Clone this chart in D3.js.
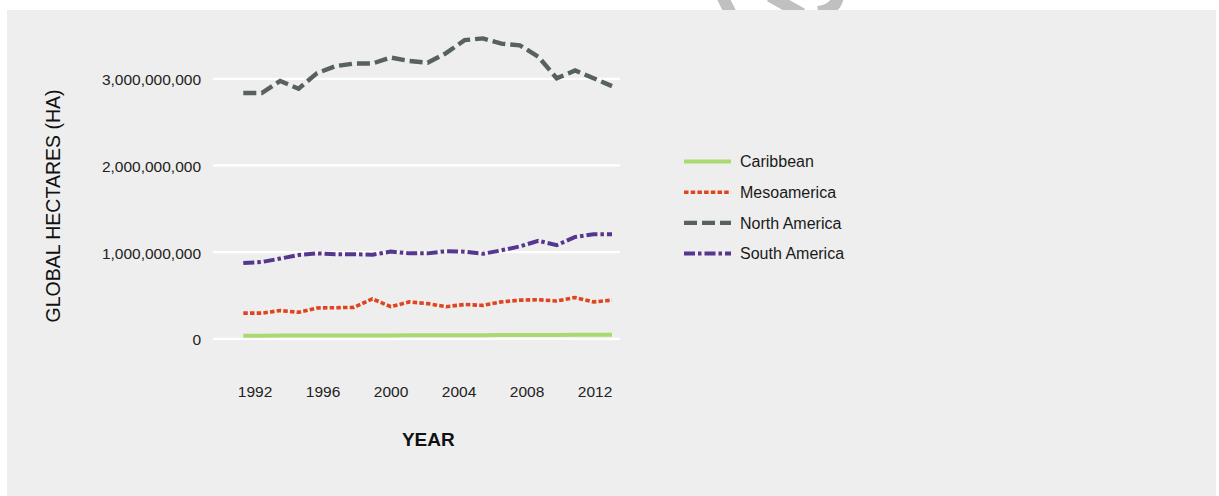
<!DOCTYPE html>
<html><head><meta charset="utf-8">
<script src="https://cdn.jsdelivr.net/npm/d3@7"></script>
<style>body{margin:0;background:#fff}svg{display:block}text{font-family:"Liberation Sans",Arial,Helvetica,sans-serif}</style>
</head><body><svg id="c" width="1219" height="496"></svg>
<script>
const years = [1992,1993,1994,1995,1996,1997,1998,1999,2000,2001,2002,2003,2004,2005,2006,2007,2008,2009,2010,2011,2012];
const seriesNames = ["Caribbean","Mesoamerica","North America","South America"];
// values in billions of global hectares
const caribbean = [0.030,0.030,0.031,0.031,0.032,0.032,0.033,0.032,0.033,0.034,0.035,0.035,0.036,0.036,0.037,0.038,0.039,0.039,0.040,0.041,0.042];
const mesoamerica = [0.29,0.29,0.32,0.30,0.35,0.353,0.357,0.455,0.365,0.42,0.40,0.365,0.39,0.38,0.42,0.44,0.445,0.43,0.47,0.42,0.44];
const northAmerica = [2.83,2.83,2.97,2.88,3.06,3.14,3.17,3.17,3.24,3.20,3.18,3.29,3.44,3.46,3.40,3.38,3.25,3.00,3.09,3.00,2.91];
const southAmerica = [0.87,0.88,0.92,0.96,0.98,0.97,0.97,0.965,1.00,0.98,0.98,1.005,1.00,0.975,1.015,1.06,1.125,1.075,1.17,1.20,1.20];
const yTicks = [0,1e9,2e9,3e9];
const xTicks = [1992,1996,2000,2004,2008,2012];

const styles = [
  {color:"#aad96f", width:4, dash:null},
  {color:"#e0441f", width:3.6, dash:"4.5,2.2"},
  {color:"#56625a", width:4.4, dash:"13,5"},
  {color:"#57368f", width:4, dash:"11,3,3.5,3"}
];
const allSeries = [caribbean, mesoamerica, northAmerica, southAmerica];

const svg = d3.select("#c");
// watermark fragments above panel
const wm = svg.append("g").attr("fill","none").attr("stroke","#c0c0c0").attr("stroke-width",12);
wm.append("path").attr("d","M722,-4 L732,16");
wm.append("path").attr("d","M770,-4 L802,14");
wm.append("path").attr("d","M838,-4 Q836,10 818,12");
// panel
svg.append("rect").attr("x",7).attr("y",10).attr("width",1209).attr("height",486).attr("fill","#eeeeee");

const x = d3.scaleLinear().domain([1992,2012]).range([243.3,612]);
const xLabel = d3.scaleLinear().domain([1992,2012]).range([254.5,594.5]);
const y = d3.scaleLinear().domain([0,3e9]).range([338.3,78.3]);

const yAxis = svg.append("g").attr("transform","translate(213,0)")
  .call(d3.axisLeft(y).tickValues(yTicks).tickFormat(d3.format(",")).tickSize(-407).tickPadding(12));
yAxis.select(".domain").remove();
yAxis.selectAll(".tick line").attr("stroke","#ffffff").attr("stroke-width",2.2);
yAxis.selectAll(".tick text").attr("fill","#222").attr("font-size","15.5px").attr("dy","0.42em");

const xAxis = svg.append("g").attr("transform","translate(0,375)")
  .call(d3.axisBottom(xLabel).tickValues(xTicks).tickFormat(d3.format("d")).tickSize(0).tickPadding(10.5));
xAxis.select(".domain").remove();
xAxis.selectAll(".tick text").attr("fill","#222").attr("font-size","15.5px");

const line = d3.line().x((d,i)=>x(years[i])).y(d=>y(d*1e9));
allSeries.forEach((s,k)=>{
  const st = styles[k];
  svg.append("path").datum(s).attr("d",line).attr("fill","none")
    .attr("stroke",st.color).attr("stroke-width",st.width)
    .attr("stroke-dasharray",st.dash).attr("stroke-linejoin","miter");
});

// legend
const lg = svg.append("g");
seriesNames.forEach((n,k)=>{
  const st = styles[k];
  const yy = 161.5 + k*30.7;
  lg.append("line").attr("x1",684).attr("x2",731).attr("y1",yy).attr("y2",yy)
    .attr("stroke",st.color).attr("stroke-width",st.width).attr("stroke-dasharray",st.dash);
  lg.append("text").attr("x",740).attr("y",yy).attr("dy","0.36em").attr("font-size","16px").attr("fill","#1a1a1a").text(n);
});

// axis titles
svg.append("text").attr("transform","translate(60,206) rotate(-90)").attr("text-anchor","middle")
  .attr("font-size","19.5px").attr("fill","#111").text("GLOBAL HECTARES (HA)");
svg.append("text").attr("x",428.3).attr("y",446).attr("text-anchor","middle")
  .attr("font-size","19px").attr("font-weight","bold").attr("fill","#111").text("YEAR");
</script></body></html>
